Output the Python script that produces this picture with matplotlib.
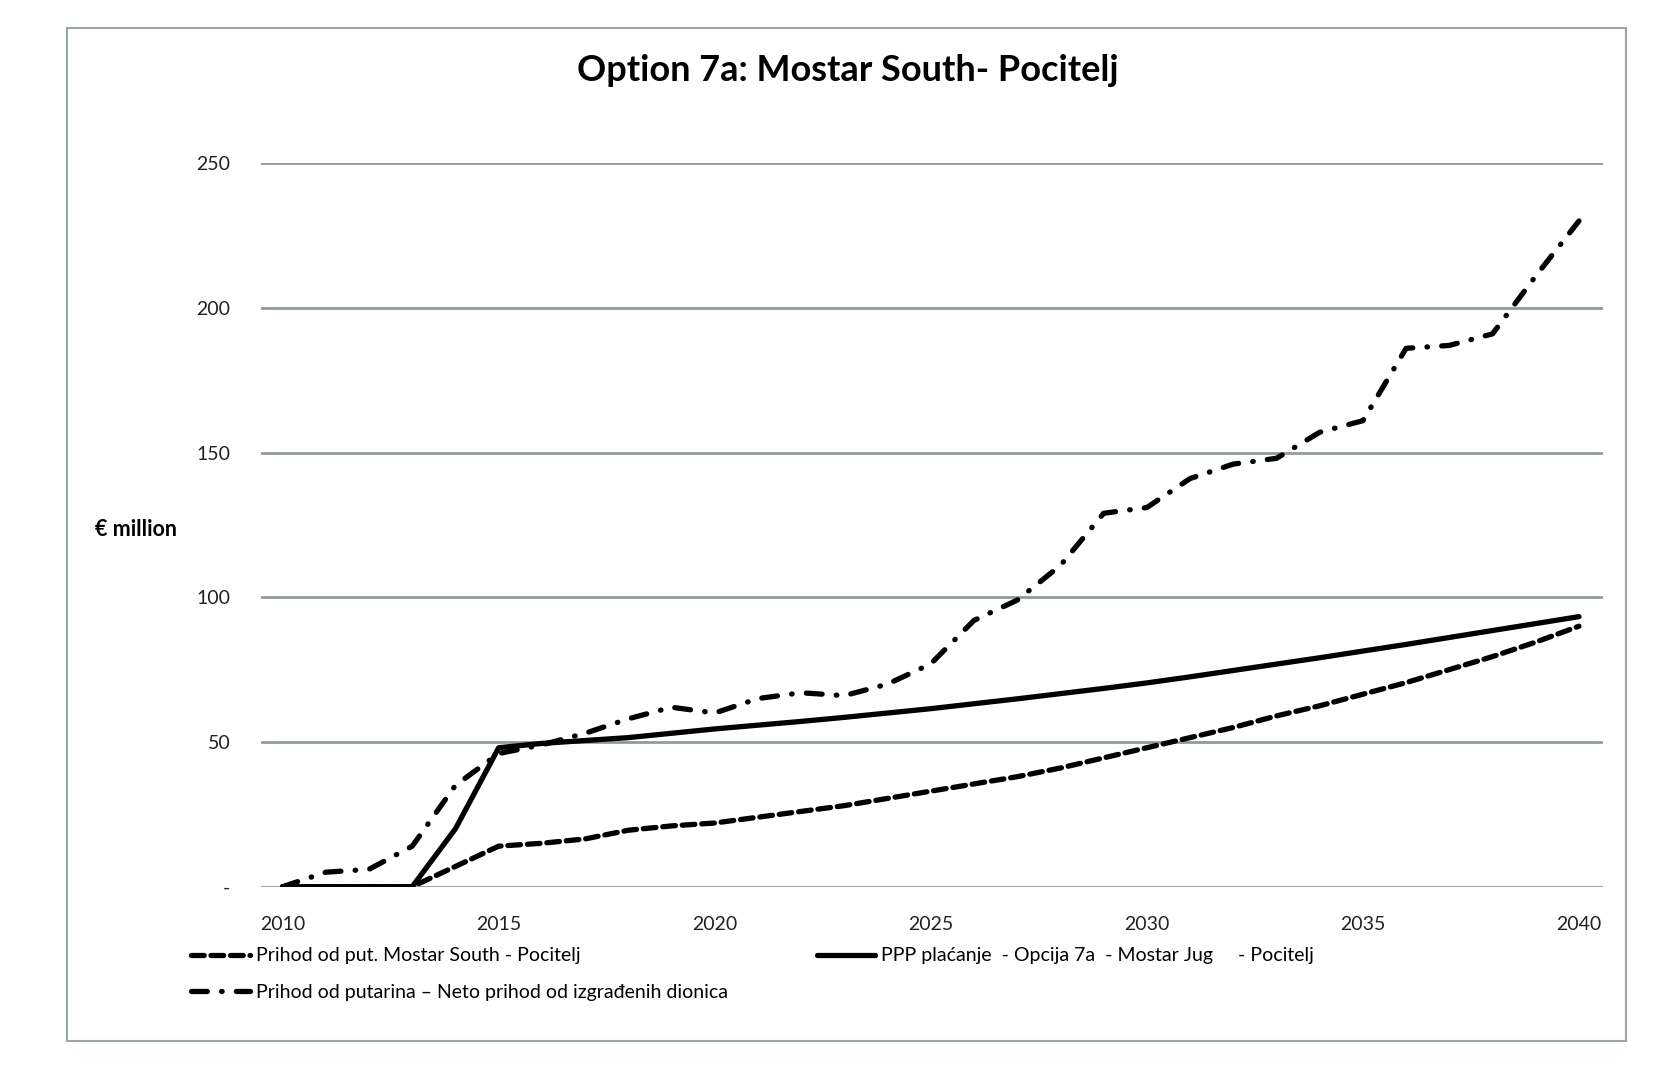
import matplotlib
matplotlib.use("Agg")
import matplotlib.pyplot as plt
from matplotlib.patches import Rectangle

plt.rcParams['font.family'] = ['Lato', 'DejaVu Sans']

# data
years = list(range(2010, 2041))

toll_mostar_south = [0, 0, 0, 0, 7, 14, 15, 16.5, 19.5, 21, 22, 24, 26, 28, 30.5,
                     33, 35.5, 38, 41, 44.5, 48, 51.5, 55, 59, 62.5, 66.5, 70.5,
                     75, 79.5, 84.5, 90]

ppp_payment = [0, 0, 0, 0, 20, 48, 49.5, 50.5, 51.5, 53, 54.5, 55.8, 57.1, 58.5,
               60, 61.5, 63.2, 64.9, 66.7, 68.5, 70.4, 72.5, 74.7, 76.9, 79.1,
               81.4, 83.7, 86.1, 88.5, 90.9, 93.3]

toll_net = [0, 5, 6, 14, 35, 46, 49, 53, 58, 62, 60, 65, 67, 66, 70, 77, 92, 99,
            111, 129, 131, 141, 146, 148, 157, 161, 186, 187, 191, 211, 230]

y_ticks = [0, 50, 100, 150, 200, 250]
y_tick_labels = ["-", "50", "100", "150", "200", "250"]
x_ticks = [2010, 2015, 2020, 2025, 2030, 2035, 2040]

labels = ["Prihod od put. Mostar South - Pocitelj",
          "PPP plaćanje  - Opcija 7a  - Mostar Jug     - Pocitelj",
          "Prihod od putarina – Neto prihod od izgrađenih dionica"]

fig = plt.figure(figsize=(16.73, 10.8), dpi=100)
ax = fig.add_axes([0.156, 0.179, 0.802, 0.670])

grid_col = "#8f9c9a"
for v in y_ticks:
    ax.axhline(v, color=grid_col, lw=2, zorder=1)

lw = 3.8
l1, = ax.plot(years, toll_mostar_south, color="black", lw=lw,
              dashes=(2.4, 1.3), dash_capstyle="round", zorder=3)
l2, = ax.plot(years, ppp_payment, color="black", lw=lw,
              solid_capstyle="round", zorder=3)
l3, = ax.plot(years, toll_net, color="black", lw=lw,
              dashes=(3.0, 2.7, 0.1, 2.7), dash_capstyle="round", zorder=3)

ax.set_xlim(2009.5, 2040.55)
ax.set_ylim(0, 250)
ax.set_yticks(y_ticks)
ax.set_yticklabels(y_tick_labels, fontsize=14)
ax.set_xticks(x_ticks)
ax.set_xticklabels([str(x) for x in x_ticks], fontsize=14)
ax.tick_params(length=0, colors="#222222")
ax.tick_params(axis="y", pad=22)
ax.tick_params(axis="x", pad=21)
for s in ax.spines.values():
    s.set_visible(False)

fig.text(0.507, 0.935, "Option 7a: Mostar South- Pocitelj", ha="center",
         va="center", fontsize=26, fontweight="bold")
fig.text(0.057, 0.510, "€ million", ha="left", va="center", fontsize=15.5,
         fontweight="bold")

fig.legend([l1, l3, l2], [labels[0], labels[2], labels[1]], ncol=2,
           loc="upper left", bbox_to_anchor=(0.104, 0.139), frameon=False,
           fontsize=14, handlelength=3.0, handletextpad=0.3,
           columnspacing=4.6, labelspacing=1.0)

# outer border
fig.patches.append(Rectangle((0.040, 0.036), 0.932, 0.938, transform=fig.transFigure,
                             fill=False, edgecolor="#9aa5a4", lw=1.5))

fig.savefig("out.png", dpi=100)
